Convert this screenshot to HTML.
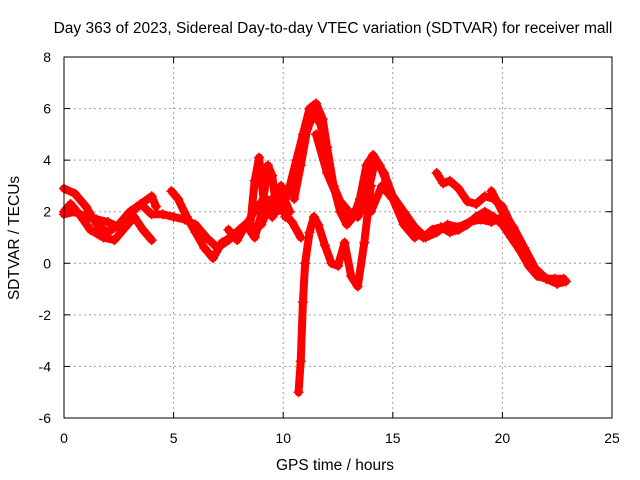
<!DOCTYPE html>
<html><head><meta charset="utf-8"><style>
body{margin:0;background:#fff}
svg{display:block;font-family:"Liberation Sans",sans-serif}
</style></head><body>
<svg id="chart" width="640" height="480" viewBox="0 0 640 480">
<rect width="640" height="480" fill="#fff"/>
<text x="333" y="33" font-size="15.5" text-anchor="middle">Day 363 of 2023, Sidereal Day-to-day VTEC variation (SDTVAR) for receiver mall</text>
<text x="335" y="470" font-size="15.5" text-anchor="middle">GPS time / hours</text>
<text transform="translate(19,238) rotate(-90)" font-size="15.5" text-anchor="middle">SDTVAR / TECUs</text>
<g id="grid"></g><g id="marks"></g>
<rect x="64" y="57" width="548" height="361" fill="none" stroke="#000" stroke-width="1"/>
</svg>
<script>
const xTicks=[0,5,10,15,20,25];
const yTicks=[-6,-4,-2,0,2,4,6,8];
const sA_t=[0,0.5,1,1.5,2,2.5,3,3.5,4,4.2];
const sA_v=[2.9,2.7,2.2,1.5,1.2,1.5,2.0,2.3,2.6,2.2];
const sB_t=[0,0.5,1,1.5,2,2.5,3,3.5,4,4.5,5,5.5,6,6.5,7,7.5,8];
const sB_v=[1.9,2.0,1.8,1.7,1.6,1.4,1.9,2.3,1.9,1.9,1.8,1.7,1.5,1.0,0.6,0.9,1.2];
const sC_t=[0,0.3,0.7,1.2,1.8,2.3,2.8,3.2,3.6,4.0];
const sC_v=[2.0,2.3,1.9,1.3,1.0,0.9,1.4,1.8,1.3,0.9];
const sD_t=[4.9,5.2,5.6,6,6.4,6.8,7.2,7.6,8,8.4,8.8,9.2,9.6,10,10.4,10.8];
const sD_v=[2.8,2.5,1.8,1.2,0.6,0.2,0.8,1.0,1.3,1.6,2.2,2.5,2.3,2.0,1.6,1.0];
const sE_t=[9,9.5,10,10.3,10.6,10.9,11.2,11.5,11.8,12.0,12.3,12.6,12.9,13.2,13.5,13.8,14.1,14.4,14.7,15,15.3,15.6,16,16.4,16.8,17.2,17.6,18,18.4,18.8,19.2,19.6,20,20.4,20.8,21.2,21.6,22,22.4,22.8];
const sE_v=[1.5,2.5,2.2,3.0,4.0,5.0,6.0,6.2,5.6,4.5,3.0,2.0,1.5,1.8,2.5,3.8,4.2,3.8,3.2,2.5,2.0,1.5,1.2,1.0,1.3,1.4,1.2,1.3,1.5,1.8,2.0,1.8,1.5,1.0,0.5,0.0,-0.4,-0.6,-0.6,-0.7];
const sF_t=[10.7,10.8,10.9,11.0,11.2,11.4,11.6,11.9,12.2,12.5,12.8,13.1,13.4,13.7,14.0];
const sF_v=[-5,-3.8,-1.5,0,1.2,1.8,1.5,0.7,0.0,-0.1,0.8,-0.5,-0.9,0.8,3.0];
const sG_t=[17,17.3,17.6,18,18.4,18.8,19.2,19.6,20,20.4,20.8,21.2,21.6,22];
const sG_v=[3.5,3.1,3.2,2.9,2.4,2.3,2.6,2.5,2.2,1.5,0.5,-0.1,-0.5,-0.6];
const sH_t=[19.5,20,20.5,21,21.5,22,22.8];
const sH_v=[2.8,2.0,1.4,0.6,-0.2,-0.6,-0.6];
const sS_t=[8.5,8.7,8.9,9.1,9.3,9.5,9.7,9.9,10.1];
const sS_v=[1.5,3.2,4.1,2.5,3.8,3.4,2.0,3.0,1.8];
const sM_t=[11.5,12,12.5,13,13.5,14,14.5,15,15.5,16];
const sM_v=[5.0,3.5,2.5,1.8,2.2,2.0,3.0,2.5,1.5,1.0];
const sN_t=[10.5,10.8,11.1,11.4,11.7,12.0,12.3,12.6,13.0,13.4,13.8,14.2,14.6,15.0,15.5,16.0,16.5,17.0,17.5,18.0,18.5,19.0,19.5,20.0,20.5,21.0,21.5,22.0,22.5,22.9];
const sN_v=[2.5,3.8,5.2,5.8,5.4,4.0,3.0,2.4,2.0,1.8,2.5,4.0,3.5,2.6,2.0,1.4,1.0,1.2,1.5,1.4,1.6,1.7,1.6,1.8,1.2,0.4,-0.3,-0.6,-0.8,-0.7];
const sP_t=[7.5,7.9,8.3,8.7,9.1,9.5,9.9,10.3];
const sP_v=[1.3,0.9,1.5,1.0,2.2,1.8,2.8,2.0];
const series=[[sA_t,sA_v],[sB_t,sB_v],[sC_t,sC_v],[sD_t,sD_v],[sE_t,sE_v],[sF_t,sF_v],[sG_t,sG_v],[sH_t,sH_v],[sS_t,sS_v],[sM_t,sM_v],[sN_t,sN_v],[sP_t,sP_v]];
const X=t=>64+t*(548/25);
const Y=v=>418-(v+6)*(361/14);
const NS='http://www.w3.org/2000/svg';
const grid=document.getElementById('grid'),marks=document.getElementById('marks');
function mk(tag,attrs,parent){const e=document.createElementNS(NS,tag);for(const k in attrs)e.setAttribute(k,attrs[k]);parent.appendChild(e);return e;}
xTicks.forEach(t=>{
 const x=X(t);
 if(t>0&&t<25){const g=mk('line',{x1:x,x2:x,y1:57,y2:418,stroke:'#a0a0a0','stroke-dasharray':'2,3'},grid);
 
 }
 mk('line',{x1:x,x2:x,y1:418,y2:412,stroke:'#000'},grid);
 mk('line',{x1:x,x2:x,y1:57,y2:63,stroke:'#000'},grid);
 const l=mk('text',{x:x,y:443,'font-size':14,'text-anchor':'middle'},grid);l.textContent=t;
 
 
});
yTicks.forEach(v=>{
 const y=Y(v);
 if(v>-6&&v<8){const g=mk('line',{x1:64,x2:612,y1:y,y2:y,stroke:'#a0a0a0','stroke-dasharray':'2,3'},grid);
 
 }
 mk('line',{x1:64,x2:70,y1:y,y2:y,stroke:'#000'},grid);
 mk('line',{x1:606,x2:612,y1:y,y2:y,stroke:'#000'},grid);
 const l=mk('text',{x:51,y:y+5,'font-size':14,'text-anchor':'end'},grid);l.textContent=v;
 
 
});
series.forEach((s,i)=>{
 const pts=s[0].map((t,j)=>X(t)+','+Y(s[1][j])).join(' ');
 const p=mk('polyline',{points:pts,fill:'none',stroke:'#ff0000','stroke-width':8,'stroke-linejoin':'round','stroke-linecap':'round'},marks);
 
 
 s[0].forEach((t,j)=>{
  const x=X(t),y=Y(s[1][j]);
  const m=mk('path',{d:`M${x-5},${y}H${x+5}M${x},${y-5}V${y+5}`,stroke:'#ff0000','stroke-width':1.5},marks);
  
  
 });
});
</script>
</body></html>
